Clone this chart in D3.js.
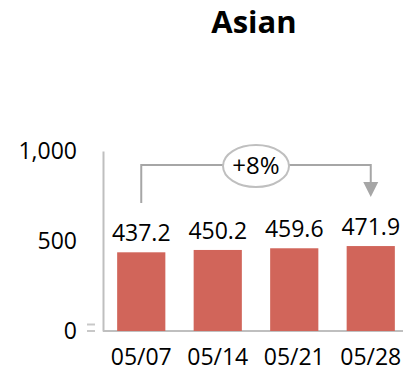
<!DOCTYPE html>
<html>
<head>
<meta charset="utf-8">
<script src="https://cdn.jsdelivr.net/npm/d3@7"></script>
<style>
  body { margin: 0; background: #fff; }
  text { font-family: "Open Sans", sans-serif; fill: #000; }
</style>
</head>
<body>
<div id="chart"></div>
<script>
// data
const categories = ["05/07", "05/14", "05/21", "05/28"];
const values = [437.2, 450.2, 459.6, 471.9];
const yTicks = [0, 500, 1000];
const title = "Asian";
const changeLabel = "+8%";

const width = 403, height = 373;
const svg = d3.select("#chart").append("svg")
    .attr("width", width)
    .attr("height", height);

// scales
const x = d3.scaleBand().domain(categories).range([103, 409])
    .paddingInner(0.37).paddingOuter(0.185);
const y = d3.scaleLinear().domain([0, 1000]).range([331, 151]);

// title
svg.append("text")
    .attr("x", 254).attr("y", 33)
    .attr("text-anchor", "middle")
    .style("font-size", "31px").style("font-weight", "bold")
    .text(title);

// y axis
const yAxis = svg.append("g")
    .attr("transform", "translate(103,0)")
    .call(d3.axisLeft(y).tickValues(yTicks).tickSize(0).tickPadding(26).tickFormat(d3.format(",")));
yAxis.select(".domain").attr("stroke", "#bfbfbf").attr("stroke-width", 2);
yAxis.selectAll("text").style("font-size", "23px").attr("font-family", null);

// small double dash next to zero
[324.5, 331].forEach(d => {
  svg.append("line")
      .attr("x1", 87).attr("x2", 95).attr("y1", d).attr("y2", d)
      .attr("stroke", "#c8c8c8").attr("stroke-width", 2);
});

// x axis
const xAxis = svg.append("g")
    .attr("transform", "translate(0,331)")
    .call(d3.axisBottom(x).tickSize(0).tickPadding(18));
xAxis.select(".domain").attr("d", "M103,0H403").attr("stroke", "#bfbfbf").attr("stroke-width", 2);
xAxis.selectAll("text").style("font-size", "23px").attr("font-family", null);

// bars
svg.selectAll("rect.bar")
    .data(values).enter()
    .append("rect")
    .attr("class", "bar")
    .attr("x", (d, i) => x(categories[i]))
    .attr("y", d => y(d))
    .attr("width", x.bandwidth())
    .attr("height", d => y(0) - y(d))
    .attr("fill", "#d1655a");

// value labels
svg.selectAll("text.val")
    .data(values).enter()
    .append("text")
    .attr("class", "val")
    .attr("x", (d, i) => x(categories[i]) + x.bandwidth() / 2)
    .attr("y", d => y(d) - 11)
    .attr("text-anchor", "middle")
    .style("font-size", "23px")
    .text(d => d3.format(".1f")(d));

// change bracket
const x0 = x(categories[0]) + x.bandwidth() / 2;
const x1 = x(categories[categories.length - 1]) + x.bandwidth() / 2;
const lineY = 165;
svg.append("path")
    .attr("d", `M${x0},203V${lineY}H${x1}V183`)
    .attr("fill", "none")
    .attr("stroke", "#a6a6a6")
    .attr("stroke-width", 2);
svg.append("path")
    .attr("d", `M${x1 - 7.5},182L${x1 + 7.5},182L${x1},197Z`)
    .attr("fill", "#a6a6a6");

// ellipse with percentage
const cx = (x0 + x1) / 2;
svg.append("ellipse")
    .attr("cx", cx).attr("cy", lineY + 1)
    .attr("rx", 33).attr("ry", 21)
    .attr("fill", "#fff")
    .attr("stroke", "#bfbfbf")
    .attr("stroke-width", 2);
svg.append("text")
    .attr("x", cx).attr("y", lineY + 9)
    .attr("text-anchor", "middle")
    .style("font-size", "24px")
    .text(changeLabel);
</script>
</body>
</html>
